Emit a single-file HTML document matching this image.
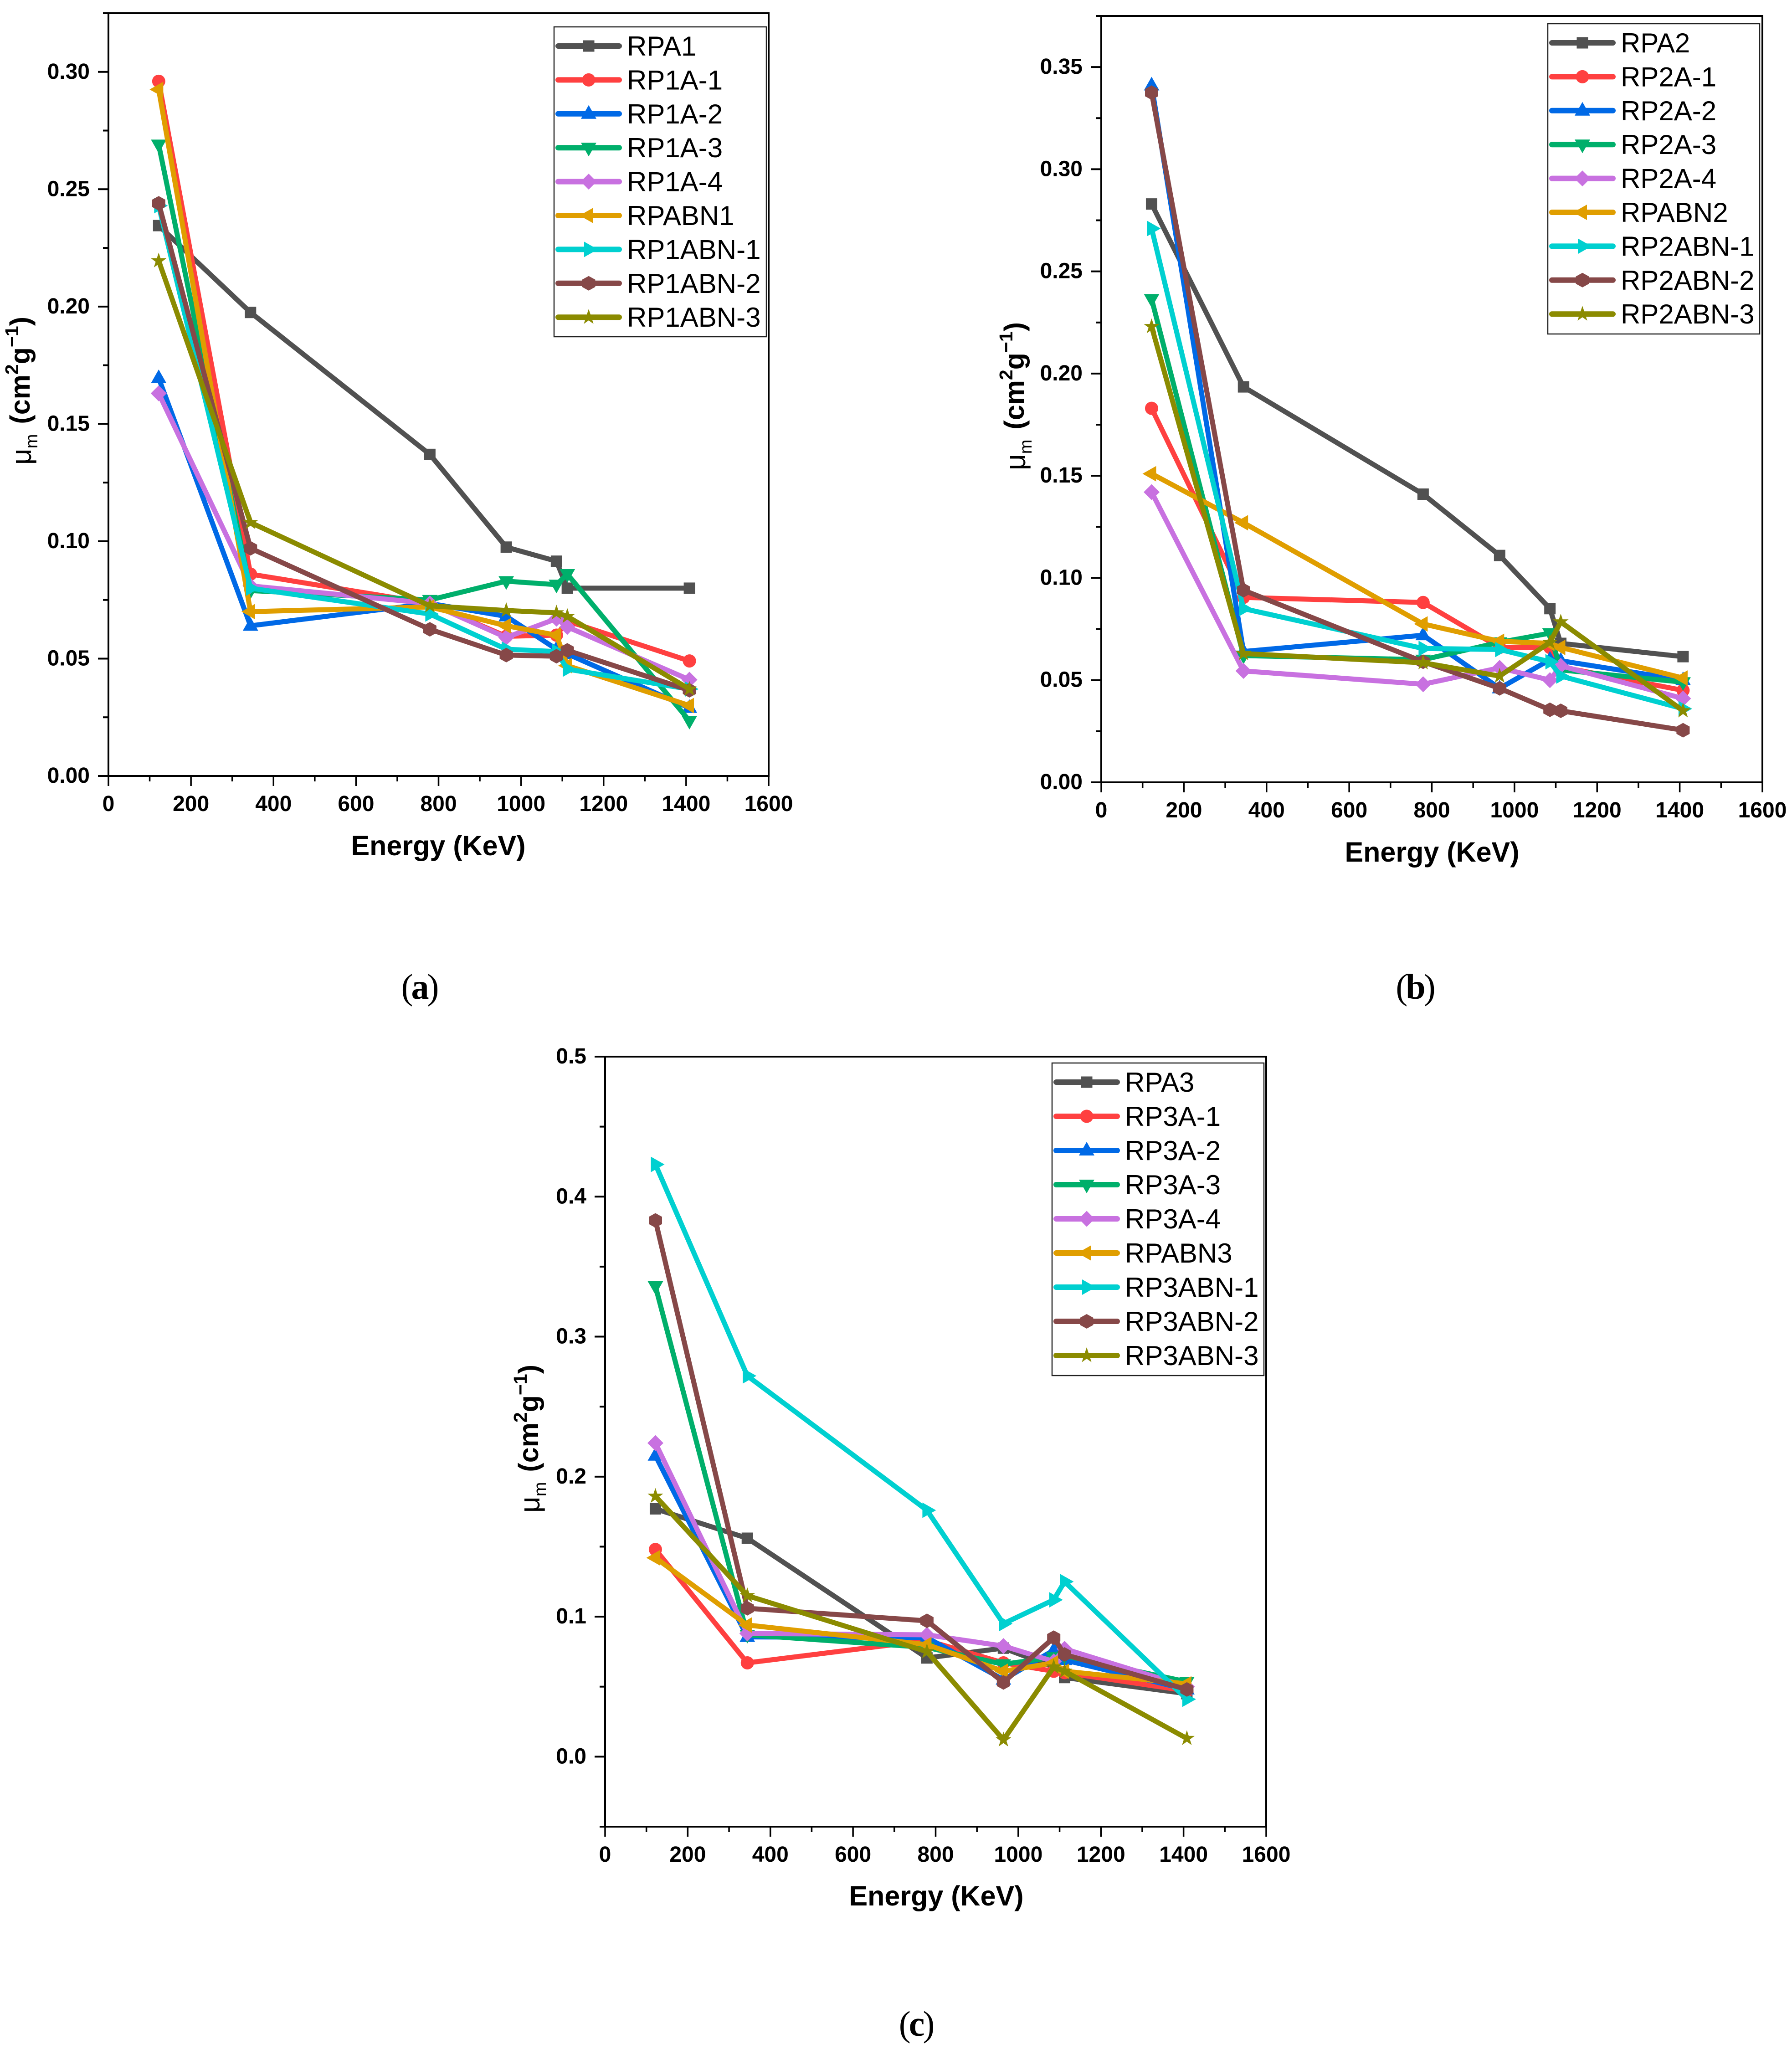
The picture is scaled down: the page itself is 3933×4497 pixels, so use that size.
<!DOCTYPE html>
<html lang="en">
<head>
<meta charset="utf-8">
<title>Mass attenuation coefficient vs energy</title>
<style>
html,body{margin:0;padding:0;background:#fff;}
svg{display:block;}
text{font-family:"Liberation Sans",sans-serif;fill:#000;}
.tick{font-size:48px;font-weight:bold;}
.axis-title{font-size:61px;font-weight:bold;}
.legend-text{font-size:60px;}
.caption{font-family:"Liberation Serif",serif;font-size:78px;letter-spacing:-4px;}
</style>
</head>
<body>
<svg id="figure" xmlns="http://www.w3.org/2000/svg" width="3933" height="4497" viewBox="0 0 3933 4497">
  <rect x="0" y="0" width="3933" height="4497" fill="#fff"/>
  <g id="panel-a"></g>
  <g id="panel-b"></g>
  <g id="panel-c"></g>

  <text class="axis-title" transform="translate(65,1020) rotate(-90)"><tspan dy="3" font-weight="normal" font-size="62">μ</tspan><tspan dy="14" font-weight="normal" font-size="38">m</tspan><tspan dy="-17" dx="22">(cm</tspan><tspan dy="-25" font-size="41">2</tspan><tspan dy="25">g</tspan><tspan dy="-25" font-size="41">−1</tspan><tspan dy="25">)</tspan></text>
  <text class="axis-title" transform="translate(2247,1032) rotate(-90)"><tspan dy="3" font-weight="normal" font-size="62">μ</tspan><tspan dy="14" font-weight="normal" font-size="38">m</tspan><tspan dy="-17" dx="22">(cm</tspan><tspan dy="-25" font-size="41">2</tspan><tspan dy="25">g</tspan><tspan dy="-25" font-size="41">−1</tspan><tspan dy="25">)</tspan></text>
  <text class="axis-title" transform="translate(1181,3320) rotate(-90)"><tspan dy="3" font-weight="normal" font-size="62">μ</tspan><tspan dy="14" font-weight="normal" font-size="38">m</tspan><tspan dy="-17" dx="22">(cm</tspan><tspan dy="-25" font-size="41">2</tspan><tspan dy="25">g</tspan><tspan dy="-25" font-size="41">−1</tspan><tspan dy="25">)</tspan></text>

  <text class="axis-title" x="962" y="1877" text-anchor="middle">Energy (KeV)</text>
  <text class="axis-title" x="3143" y="1891" text-anchor="middle">Energy (KeV)</text>
  <text class="axis-title" x="2055" y="4182" text-anchor="middle">Energy (KeV)</text>

  <text class="caption" x="920" y="2192" text-anchor="middle">(<tspan font-weight="bold">a</tspan>)</text>
  <text class="caption" x="3105" y="2192" text-anchor="middle">(<tspan font-weight="bold">b</tspan>)</text>
  <text class="caption" x="2010" y="4468" text-anchor="middle">(<tspan font-weight="bold">c</tspan>)</text>
</svg>

<script>
// ---- Data ----
const energyKeV = [121.8, 344.3, 778.9, 964.1, 1085.8, 1112.1, 1408];
const xTickValues = [0, 200, 400, 600, 800, 1000, 1200, 1400, 1600];
const xTickLabels = ["0", "200", "400", "600", "800", "1000", "1200", "1400", "1600"];

const panelANames = ["RPA1", "RP1A-1", "RP1A-2", "RP1A-3", "RP1A-4", "RPABN1", "RP1ABN-1", "RP1ABN-2", "RP1ABN-3"];
const rpa1   = [0.2345, 0.1975, 0.137, 0.0975, 0.0915, 0.080, 0.080];
const rp1a1  = [0.296, 0.086, 0.0735, 0.0595, 0.060, 0.066, 0.049];
const rp1a2  = [0.1695, 0.064, 0.0735, 0.068, 0.054, 0.052, 0.029];
const rp1a3  = [0.269, 0.079, 0.075, 0.083, 0.0815, 0.086, 0.0235];
const rp1a4  = [0.163, 0.081, 0.0735, 0.059, 0.067, 0.0635, 0.041];
const rpabn1 = [0.2925, 0.070, 0.072, 0.064, 0.060, 0.047, 0.030];
const rp1abn1 = [0.243, 0.080, 0.069, 0.054, 0.053, 0.0455, 0.037];
const rp1abn2 = [0.244, 0.097, 0.0625, 0.0515, 0.051, 0.0535, 0.0365];
const rp1abn3 = [0.2195, 0.108, 0.0725, 0.0705, 0.0695, 0.068, 0.037];
const panelAYTicks = [0, 0.05, 0.10, 0.15, 0.20, 0.25, 0.30];
const panelAYLabels = ["0.00", "0.05", "0.10", "0.15", "0.20", "0.25", "0.30"];

const panelBNames = ["RPA2", "RP2A-1", "RP2A-2", "RP2A-3", "RP2A-4", "RPABN2", "RP2ABN-1", "RP2ABN-2", "RP2ABN-3"];
const rpa2   = [0.283, 0.1935, 0.141, 0.111, 0.085, 0.068, 0.0615];
const rp2a1  = [0.183, 0.0905, 0.088, 0.066, 0.066, 0.0565, 0.045];
const rp2a2  = [0.341, 0.064, 0.072, 0.046, 0.060, 0.0595, 0.050];
const rp2a3  = [0.2365, 0.062, 0.060, 0.0685, 0.073, 0.055, 0.049];
const rp2a4  = [0.142, 0.0545, 0.048, 0.056, 0.050, 0.057, 0.041];
const rpabn2 = [0.151, 0.127, 0.0775, 0.069, 0.068, 0.066, 0.051];
const rp2abn1 = [0.271, 0.085, 0.0655, 0.065, 0.059, 0.052, 0.036];
const rp2abn2 = [0.3375, 0.094, 0.059, 0.046, 0.0355, 0.035, 0.0255];
const rp2abn3 = [0.223, 0.063, 0.0585, 0.052, 0.0685, 0.0785, 0.035];
const panelBYTicks = [0, 0.05, 0.10, 0.15, 0.20, 0.25, 0.30, 0.35];
const panelBYLabels = ["0.00", "0.05", "0.10", "0.15", "0.20", "0.25", "0.30", "0.35"];

const panelCNames = ["RPA3", "RP3A-1", "RP3A-2", "RP3A-3", "RP3A-4", "RPABN3", "RP3ABN-1", "RP3ABN-2", "RP3ABN-3"];
const rpa3   = [0.177, 0.156, 0.0705, 0.0775, 0.064, 0.0565, 0.045];
const rp3a1  = [0.148, 0.067, 0.083, 0.067, 0.061, 0.060, 0.047];
const rp3a2  = [0.215, 0.0855, 0.085, 0.055, 0.076, 0.069, 0.048];
const rp3a3  = [0.336, 0.087, 0.078, 0.066, 0.071, 0.072, 0.0535];
const rp3a4  = [0.224, 0.088, 0.087, 0.079, 0.068, 0.077, 0.050];
const rpabn3 = [0.142, 0.094, 0.080, 0.061, 0.067, 0.061, 0.052];
const rp3abn1 = [0.423, 0.272, 0.176, 0.095, 0.112, 0.125, 0.041];
const rp3abn2 = [0.383, 0.106, 0.097, 0.053, 0.085, 0.073, 0.048];
const rp3abn3 = [0.186, 0.115, 0.075, 0.012, 0.064, 0.061, 0.013];
const panelCYTicks = [0, 0.1, 0.2, 0.3, 0.4, 0.5];
const panelCYLabels = ["0.0", "0.1", "0.2", "0.3", "0.4", "0.5"];

// ---- Styling ----
const seriesColors = ["#515151", "#FF4040", "#0069E6", "#00AF6B", "#C871E0", "#E09E00", "#00D0D0", "#864848", "#8B8B00"];
const seriesMarkers = ["square", "circle", "up", "down", "diamond", "left", "right", "hexagon", "star"];

const panels = [
  { id: "panel-a", key: "a", series: [rpa1, rp1a1, rp1a2, rp1a3, rp1a4, rpabn1, rp1abn1, rp1abn2, rp1abn3],
    names: panelANames, yTicks: panelAYTicks, yLabels: panelAYLabels, yMinor: 0.05,
    left: 238, right: 1687, top: 29, bottom: 1703, yMin: 0, yMax: 0.325,
    legend: { x: 1216, y: 59, w: 466, h: 680, row1: 101, step: 74.4 } },
  { id: "panel-b", key: "b", series: [rpa2, rp2a1, rp2a2, rp2a3, rp2a4, rpabn2, rp2abn1, rp2abn2, rp2abn3],
    names: panelBNames, yTicks: panelBYTicks, yLabels: panelBYLabels, yMinor: 0.05,
    left: 2417, right: 3868, top: 35, bottom: 1717, yMin: 0, yMax: 0.375,
    legend: { x: 3397, y: 52, w: 465, h: 681, row1: 94, step: 74.4 } },
  { id: "panel-c", key: "c", series: [rpa3, rp3a1, rp3a2, rp3a3, rp3a4, rpabn3, rp3abn1, rp3abn2, rp3abn3],
    names: panelCNames, yTicks: panelCYTicks, yLabels: panelCYLabels, yMinor: 0.1,
    left: 1328, right: 2779, top: 2319, bottom: 4009, yMin: -0.05, yMax: 0.5,
    legend: { x: 2309, y: 2333, w: 465, h: 686, row1: 2375, step: 75 } }
];

const NS = "http://www.w3.org/2000/svg";
function make(tag, attrs, parent) {
  const node = document.createElementNS(NS, tag);
  for (const k in attrs) node.setAttribute(k, attrs[k]);
  parent.appendChild(node);
  return node;
}

function markerShape(kind, cx, cy, color, parent) {
  let node;
  const pts = (arr) => arr.map(p => (cx + p[0]).toFixed(1) + "," + (cy + p[1]).toFixed(1)).join(" ");
  if (kind === "square") node = make("rect", { x: cx - 12.5, y: cy - 12.5, width: 25, height: 25, fill: color }, parent);
  else if (kind === "circle") node = make("ellipse", { cx: cx, cy: cy, rx: 14.5, ry: 14.5, fill: color }, parent);
  else if (kind === "up") node = make("polygon", { points: pts([[0, -19], [17, 11], [-17, 11]]), fill: color }, parent);
  else if (kind === "down") node = make("polygon", { points: pts([[0, 19], [17, -11], [-17, -11]]), fill: color }, parent);
  else if (kind === "diamond") node = make("polygon", { points: pts([[0, -17.5], [17.5, 0], [0, 17.5], [-17.5, 0]]), fill: color }, parent);
  else if (kind === "left") node = make("polygon", { points: pts([[-20, 0], [10, -17], [10, 17]]), fill: color }, parent);
  else if (kind === "right") node = make("polygon", { points: pts([[20, 0], [-10, -17], [-10, 17]]), fill: color }, parent);
  else if (kind === "hexagon") node = make("polygon", { points: pts([[0, -16], [14.5, -8], [14.5, 8], [0, 16], [-14.5, 8], [-14.5, -8]]), fill: color }, parent);
  else {
    const star = [];
    for (let i = 0; i < 10; i++) {
      const r = i % 2 === 0 ? 18 : 7;
      const a = -Math.PI / 2 + i * Math.PI / 5;
      star.push([r * Math.cos(a), r * Math.sin(a)]);
    }
    node = make("polygon", { points: pts(star), fill: color }, parent);
  }
  return node;
}

function drawPanel(p) {
  const root = document.getElementById(p.id);
  const xScale = (v) => p.left + (v - 0) / 1600 * (p.right - p.left);
  const yScale = (v) => p.bottom - (v - p.yMin) / (p.yMax - p.yMin) * (p.bottom - p.top);

  // frame
  const frame = make("path", { d: "M" + p.left + " " + p.bottom + "V" + p.top + "H" + p.right + "V" + p.bottom + "Z", fill: "none", stroke: "#000", "stroke-width": 4 }, root);
  
  

  // x ticks
  xTickValues.forEach((v, i) => {
    const x = xScale(v);
    const t = make("line", { x1: x, x2: x, y1: p.bottom, y2: p.bottom + 22, stroke: "#000", "stroke-width": 3.5 }, root);
    
    
    const label = make("text", { x: x, y: p.bottom + 77, "text-anchor": "middle", class: "tick" }, root);
    label.textContent = xTickLabels[i];
    
    
    if (i < xTickValues.length - 1) {
      const mx = xScale((v + xTickValues[i + 1]) / 2);
      const m = make("line", { x1: mx, x2: mx, y1: p.bottom, y2: p.bottom + 12, stroke: "#000", "stroke-width": 3.5 }, root);
      
      
    }
  });

  // y ticks
  p.yTicks.forEach((v, i) => {
    const y = yScale(v);
    const t = make("line", { x1: p.left - 23, x2: p.left, y1: y, y2: y, stroke: "#000", "stroke-width": 4 }, root);
    
    
    const label = make("text", { x: p.left - 41, y: y + 15, "text-anchor": "end", class: "tick" }, root);
    label.textContent = p.yLabels[i];
    
    
    const below = v - p.yMinor / 2;
    if (below >= p.yMin - 1e-9) {
      const my = yScale(below);
      const m = make("line", { x1: p.left - 12, x2: p.left, y1: my, y2: my, stroke: "#000", "stroke-width": 4 }, root);
      
      
    }
    const above = v + p.yMinor / 2;
    if (i === p.yTicks.length - 1 && above <= p.yMax + 1e-9) {
      const my2 = yScale(above);
      const m2 = make("line", { x1: p.left - 12, x2: p.left, y1: my2, y2: my2, stroke: "#000", "stroke-width": 4 }, root);
      
      
    }
  });

  // series
  p.series.forEach((values, s) => {
    const g = make("g", {}, root);
    
    
    const path = energyKeV.map((e, i) => xScale(e).toFixed(1) + "," + yScale(values[i]).toFixed(1)).join(" ");
    const line = make("polyline", { points: path, fill: "none", stroke: seriesColors[s], "stroke-width": 11, "stroke-linejoin": "round" }, g);
    
    
    energyKeV.forEach((e, i) => {
      const mark = markerShape(seriesMarkers[s], xScale(e), yScale(values[i]), seriesColors[s], g);
      
      
    });
  });

  // legend
  const L = p.legend;
  const legend = make("g", {}, root);
  
  
  const box = make("rect", { x: L.x, y: L.y, width: L.w, height: L.h, fill: "#fff", stroke: "#222", "stroke-width": 2.5 }, legend);
  
  
  p.names.forEach((name, s) => {
    const cy = L.row1 + s * L.step;
    const entry = make("g", {}, legend);
    
    
    const ln = make("line", { x1: L.x + 9, x2: L.x + 143, y1: cy, y2: cy, stroke: seriesColors[s], "stroke-width": 12, "stroke-linecap": "round" }, entry);
    
    
    const mk = markerShape(seriesMarkers[s], L.x + 76, cy, seriesColors[s], entry);
    
    
    const tx = make("text", { x: L.x + 160, y: cy + 21, class: "legend-text" }, entry);
    tx.textContent = name;
    
    
  });
}

panels.forEach(drawPanel);
</script>
</body>
</html>
